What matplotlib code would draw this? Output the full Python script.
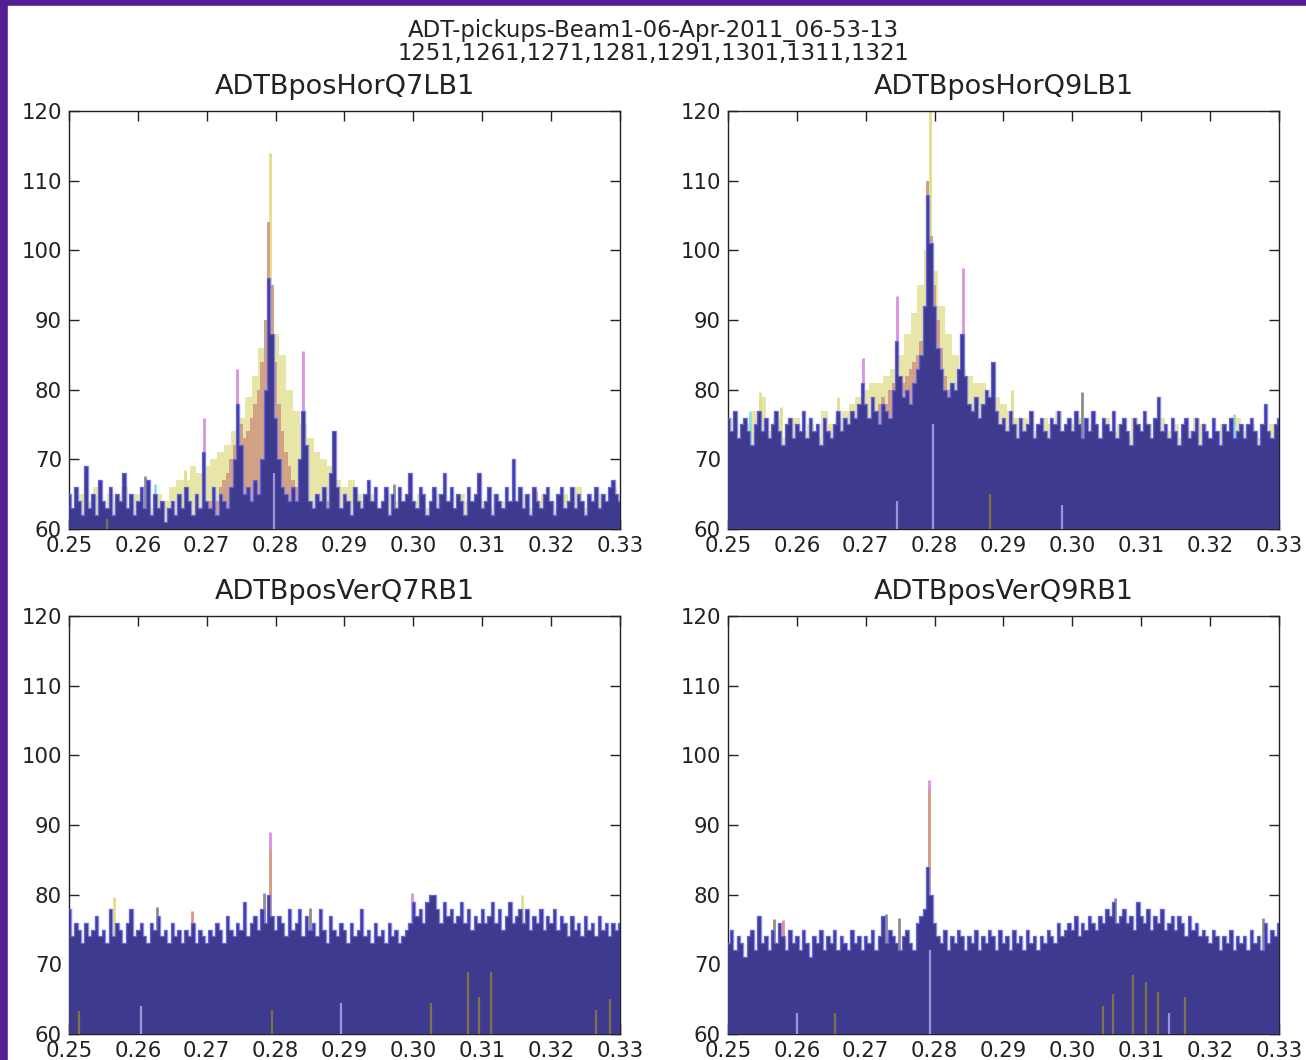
import numpy as np
import matplotlib.pyplot as plt
from matplotlib.patches import Rectangle

# tune axis of the spectra (fine grid for the pickup noise, coarse one for the yellow file, hump zoom for the orange one)
tune_fine = np.linspace(0.25, 0.33, 161)
tune_coarse = np.linspace(0.25, 0.33, 81)
tune_hump = np.linspace(0.27, 0.29, 41)

title_lines = ["ADT-pickups-Beam1-06-Apr-2011_06-53-13",
               "1251,1261,1271,1281,1291,1301,1311,1321"]
panel_names = ["ADTBposHorQ7LB1", "ADTBposHorQ9LB1",
               "ADTBposVerQ7RB1", "ADTBposVerQ9RB1"]
xticks = [0.25, 0.26, 0.27, 0.28, 0.29, 0.30, 0.31, 0.32, 0.33]
yticks = [60, 70, 80, 90, 100, 110, 120]

# ---------------- ADTBposHorQ7LB1
hq7_blue = [65, 63, 66, 64, 62, 69, 63, 65, 62, 67,
            64, 63, 66, 62, 65, 64, 68, 63, 65, 62,
            64, 66, 63, 67, 62, 65, 63, 64, 61, 63,
            64, 62, 65, 63, 66, 64, 62, 65, 63, 71,
            64, 63, 66, 62, 65, 64, 63, 66, 70, 78,
            72, 65, 66, 64, 67, 65, 70, 80, 96, 88,
            76, 70, 66, 65, 64, 66, 64, 70, 77, 72,
            64, 63, 65, 64, 66, 63, 68, 74, 66, 63,
            65, 64, 62, 66, 64, 63, 65, 67, 64, 66,
            63, 64, 66, 62, 65, 63, 66, 64, 65, 68,
            64, 63, 66, 65, 62, 64, 66, 63, 65, 68,
            64, 66, 63, 65, 64, 62, 66, 64, 65, 68,
            63, 64, 66, 62, 65, 64, 63, 66, 64, 70,
            64, 66, 63, 65, 62, 66, 64, 63, 65, 66,
            64, 62, 65, 66, 63, 64, 66, 63, 65, 64,
            62, 65, 64, 66, 63, 65, 64, 66, 67, 65,
            64]
hq7_yellow = [64, 63, 65, 64, 66, 63, 65, 64, 66, 63,
              65, 64, 63, 65, 64, 66, 67, 67, 69, 68,
              69, 70, 71, 72, 74, 76, 79, 82, 86, 90,
              88, 85, 80, 77, 75, 73, 71, 70, 69, 67,
              66, 67, 65, 64, 65, 63, 64, 65, 64, 63,
              64, 65, 63, 64, 65, 64, 63, 65, 64, 63,
              64, 63, 65, 64, 63, 64, 65, 63, 64, 65,
              64, 63, 65, 64, 66, 63, 64, 65, 64, 66,
              65]
hq7_orange = [63, 64, 65, 64, 66, 67, 68, 70, 72, 74,
              75, 73, 74, 76, 78, 80, 84, 90, 104, 95,
              84, 78, 74, 71, 69, 67, 66, 65, 68, 66,
              64, 63, 65, 64, 63, 64, 62, 63, 64, 63,
              62]
hq7_spikes = [(0.2696, 76, "magenta"), (0.2744, 83, "magenta"), (0.2840, 85.5, "magenta"),
              (0.2792, 114, "yellow"), (0.2611, 67.6, "grey"), (0.2625, 66.5, "cyan"),
              (0.2972, 66.5, "grey"), (0.3178, 65.5, "red"), (0.2668, 68.5, "yellow")]
hq7_streaks = [(0.2797, 68, "pale"), (0.2555, 61.5, "olive")]

# ---------------- ADTBposHorQ9LB1
hq9_blue = [76, 74, 77, 73, 75, 76, 74, 72, 75, 77,
            74, 76, 73, 75, 77, 74, 72, 75, 76, 73,
            75, 74, 77, 73, 76, 74, 75, 72, 76, 74,
            73, 75, 77, 74, 76, 75, 77, 76, 78, 81,
            78, 76, 79, 77, 75, 78, 77, 76, 80, 87,
            82, 79, 80, 78, 81, 83, 85, 92, 108, 101,
            92, 86, 83, 80, 79, 81, 80, 83, 88, 82,
            78, 77, 79, 76, 78, 80, 79, 84, 77, 75,
            76, 74, 77, 75, 73, 76, 74, 75, 77, 73,
            75, 76, 74, 73, 76, 75, 77, 74, 75, 76,
            74, 77, 75, 73, 76, 74, 77, 75, 73, 76,
            75, 74, 77, 73, 75, 76, 74, 72, 76, 75,
            74, 77, 75, 73, 76, 79, 74, 75, 73, 76,
            74, 72, 75, 76, 73, 74, 76, 72, 75, 74,
            73, 76, 74, 72, 75, 74, 76, 73, 74, 75,
            73, 75, 76, 74, 72, 75, 78, 74, 73, 75,
            76]
hq9_yellow = [74, 76, 73, 75, 77, 79, 74, 76, 73, 75,
              76, 74, 75, 73, 77, 75, 76, 77, 78, 79,
              80, 81, 81, 82, 83, 85, 88, 91, 95, 100,
              97, 92, 88, 85, 83, 82, 81, 81, 80, 79,
              78, 77, 76, 76, 75, 74, 76, 75, 77, 74,
              75, 76, 74, 75, 73, 76, 74, 75, 73, 76,
              74, 75, 73, 76, 74, 75, 73, 74, 76, 75,
              73, 74, 75, 73, 76, 74, 75, 73, 74, 75,
              74]
hq9_orange = [75, 76, 77, 76, 78, 79, 78, 80, 81, 82,
              80, 81, 82, 83, 84, 85, 87, 92, 110, 102,
              95, 90, 86, 82, 80, 79, 78, 77, 80, 78,
              77, 76, 77, 75, 76, 74, 75, 76, 74, 75,
              74]
hq9_spikes = [(0.2696, 84.5, "magenta"), (0.2745, 93.5, "magenta"), (0.2841, 97.5, "magenta"),
              (0.2793, 121, "yellow"), (0.2546, 79.6, "yellow"), (0.3014, 79.7, "grey"),
              (0.2532, 77, "cyan"), (0.2577, 77.5, "yellow"), (0.2660, 79, "yellow"),
              (0.3235, 76.5, "cyan"), (0.2912, 80, "yellow")]
hq9_streaks = [(0.2797, 75, "pale"), (0.2745, 64, "pale"), (0.2985, 63.5, "pale"),
               (0.2880, 65, "olive")]

# ---------------- ADTBposVerQ7RB1
vq7_blue = [78, 74, 76, 75, 73, 76, 74, 75, 77, 74,
            75, 73, 78, 74, 76, 75, 73, 76, 78, 74,
            75, 76, 74, 73, 76, 75, 77, 74, 75, 73,
            76, 74, 75, 73, 75, 74, 76, 73, 75, 74,
            73, 75, 74, 76, 75, 73, 77, 75, 74, 76,
            75, 79, 74, 76, 77, 75, 78, 76, 80, 77,
            75, 77, 76, 74, 78, 75, 76, 78, 74, 77,
            75, 76, 74, 78, 75, 73, 77, 75, 74, 76,
            75, 73, 76, 74, 75, 78, 74, 75, 73, 76,
            74, 75, 73, 76, 74, 75, 73, 74, 75, 76,
            79, 77, 78, 76, 79, 80, 80, 78, 76, 79,
            77, 78, 76, 77, 79, 76, 78, 75, 77, 76,
            78, 76, 77, 79, 76, 78, 75, 77, 79, 76,
            77, 78, 76, 78, 75, 77, 76, 78, 75, 77,
            76, 78, 75, 77, 76, 74, 77, 75, 76, 74,
            77, 75, 76, 74, 77, 75, 76, 74, 76, 75,
            76]
vq7_spikes = [(0.2792, 89, "magenta"), (0.2792, 86.5, "orange"), (0.2783, 80.3, "grey"),
              (0.2565, 79.6, "yellow"), (0.2998, 80.3, "magenta"), (0.3157, 79.9, "yellow"),
              (0.2590, 77.7, "grey"), (0.2678, 77.6, "red"), (0.2628, 78.2, "grey"),
              (0.2850, 78.1, "grey")]
vq7_streaks = [(0.3079, 68.9, "olive"), (0.3113, 68.9, "olive"), (0.3095, 65.3, "olive"),
               (0.3025, 64.5, "olive"), (0.2515, 63.3, "olive"), (0.2795, 63.5, "olive"),
               (0.3285, 65, "olive"), (0.3265, 63.5, "olive"), (0.2605, 64, "pale"),
               (0.2895, 64.5, "pale")]

# ---------------- ADTBposVerQ9RB1
vq9_blue = [73, 75, 72, 74, 73, 71, 74, 75, 72, 77,
            73, 74, 72, 75, 73, 76, 74, 72, 75, 73,
            74, 72, 75, 73, 71, 74, 73, 75, 72, 74,
            73, 75, 72, 74, 73, 72, 75, 73, 74, 72,
            74, 73, 75, 72, 74, 77, 73, 75, 74, 73,
            72, 74, 75, 73, 72, 76, 77, 78, 84, 80,
            76, 74, 73, 75, 72, 74, 73, 75, 74, 72,
            74, 73, 75, 72, 74, 73, 75, 74, 72, 75,
            73, 74, 72, 75, 73, 74, 72, 75, 73, 74,
            72, 74, 73, 75, 74, 73, 76, 74, 75, 76,
            75, 77, 74, 76, 75, 77, 76, 75, 77, 76,
            78, 77, 79, 76, 77, 78, 76, 77, 75, 79,
            77, 76, 78, 75, 77, 76, 78, 75, 76, 77,
            75, 77, 76, 74, 77, 75, 76, 74, 75, 74,
            73, 75, 74, 72, 74, 73, 75, 72, 74, 73,
            74, 72, 75, 73, 74, 72, 76, 73, 75, 74,
            76]
vq9_spikes = [(0.2792, 96.5, "magenta"), (0.2792, 95, "orange"), (0.3062, 79.5, "grey"),
              (0.2729, 77.2, "grey"), (0.2749, 76.6, "grey"), (0.2580, 76.4, "red"),
              (0.2567, 76.5, "grey"), (0.3277, 76.7, "grey")]
vq9_streaks = [(0.3088, 68.4, "olive"), (0.3107, 67.5, "olive"), (0.3059, 65.8, "olive"),
               (0.3164, 65.3, "olive"), (0.3045, 64, "olive"), (0.3125, 66, "olive"),
               (0.2655, 63, "olive"), (0.2793, 72, "pale"), (0.2600, 63, "pale"),
               (0.3140, 63, "pale")]

spike_colors = {"magenta": "#dc90e0", "yellow": "#e2df8a", "orange": "#d4a07e",
                "grey": "#8e8e8e", "cyan": "#90dede", "red": "#e88c8c"}
streak_colors = {"olive": "#8c7a3c", "pale": "#aaa6e4"}


def draw_panel(ax, name, blue, yellow, orange, spikes, streaks):
    if yellow is not None:
        ax.fill_between(tune_coarse, 60, yellow, step="mid", color="#e8e6a6", lw=0, zorder=1)
    for f, v, s in spikes:
        ax.vlines(f, 60, v, color=spike_colors[s], lw=2.0, zorder=2)
    if orange is not None:
        ax.fill_between(tune_hump, 60, orange, step="mid", color="#d2a285", lw=0, zorder=3)
    ax.fill_between(tune_fine, 60, blue, step="mid", color="#3e3b8f", lw=0, zorder=4)
    ax.step(tune_fine, blue, where="mid", color="#6c6cf0", lw=1.0, alpha=0.8, zorder=5)
    for f, v, s in streaks:
        ax.vlines(f, 60, v, color=streak_colors[s], lw=1.6, alpha=0.85, zorder=6)

    ax.set_xlim(0.25, 0.33)
    ax.set_ylim(60, 120)
    ax.set_xticks(xticks)
    ax.set_xticklabels(["%.2f" % t for t in xticks])
    ax.set_yticks(yticks)
    ax.tick_params(direction="in", length=7, width=1, top=True, right=True,
                   labelsize=15.3, pad=5, colors="#222222")
    for sp in ax.spines.values():
        sp.set_linewidth(1.0)
        sp.set_color("#222222")
    ax.set_title(name, fontsize=19.5, pad=12.5, color="#222222")


W, H = 1306, 1060
fig = plt.figure(figsize=(W / 100, H / 100), dpi=100)
fig.patch.set_facecolor("#541e94")
fig.add_artist(Rectangle((8 / W, 0), 1, (H - 6) / H, transform=fig.transFigure,
                         color="white", zorder=-1))

lefts = [69 / W, 728 / W]
bottoms = [(H - 529) / H, (H - 1034) / H]
aw, ah = 551 / W, 418 / H

panels = [(hq7_blue, hq7_yellow, hq7_orange, hq7_spikes, hq7_streaks),
          (hq9_blue, hq9_yellow, hq9_orange, hq9_spikes, hq9_streaks),
          (vq7_blue, None, None, vq7_spikes, vq7_streaks),
          (vq9_blue, None, None, vq9_spikes, vq9_streaks)]

for k, (blue, yellow, orange, spikes, streaks) in enumerate(panels):
    ax = fig.add_axes([lefts[k % 2], bottoms[k // 2], aw, ah])
    draw_panel(ax, panel_names[k], blue, yellow, orange, spikes, streaks)

fig.text(0.5, 1 - 19 / H, "\n".join(title_lines), ha="center", va="top",
         fontsize=16.4, linespacing=1.0, color="#222222")

fig.savefig("out.png", dpi=100, facecolor=fig.get_facecolor())
